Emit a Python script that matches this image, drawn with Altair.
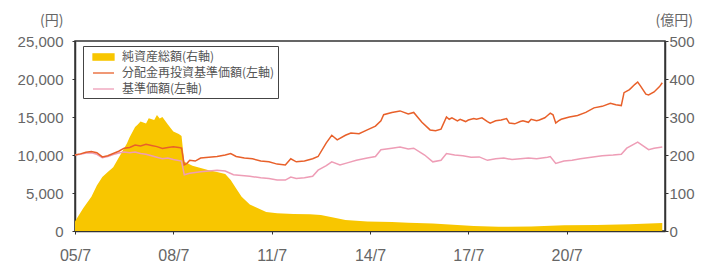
import altair as alt
import pandas as pd

S_NAV = "純資産総額(右軸)"
S_REINV = "分配金再投資基準価額(左軸)"
S_NAVPU = "基準価額(左軸)"

nav_dates = ["2005-07", "2005-08", "2005-10", "2006-01", "2006-03", "2006-05", "2006-07", "2006-09",
             "2006-12", "2007-02", "2007-03", "2007-05", "2007-06", "2007-07", "2007-09", "2007-10",
             "2007-12", "2008-01", "2008-02", "2008-03", "2008-05", "2008-07", "2008-09", "2008-10",
             "2008-11", "2008-12", "2009-02", "2009-05", "2009-08", "2009-11", "2010-02", "2010-04",
             "2010-06", "2010-08", "2010-11", "2011-01", "2011-05", "2011-09", "2012-03", "2012-09",
             "2013-01", "2013-06", "2013-10", "2014-06", "2015-03", "2015-09", "2016-06", "2017-03",
             "2017-09", "2018-06", "2019-06", "2020-06", "2021-06", "2022-06", "2023-06"]
nav_values = [25, 37, 60, 90, 120, 142, 155, 168,
              205, 230, 247, 274, 280, 288, 283, 297,
              292, 305, 296, 300, 280, 262, 255, 250,
              182, 179, 172, 166, 160, 155, 150, 134,
              112, 90, 70, 63, 50, 47, 45, 44,
              42, 35, 29, 25, 24, 22, 20, 16,
              13, 11, 12, 15, 16, 18, 21]

reinv_dates = ["2005-07", "2005-09", "2005-11", "2006-01", "2006-03", "2006-05", "2006-07", "2006-09",
               "2006-11", "2007-01", "2007-03", "2007-05", "2007-07", "2007-09", "2007-11", "2008-01",
               "2008-03", "2008-05", "2008-07", "2008-09", "2008-10", "2008-11", "2008-12", "2009-01",
               "2009-03", "2009-05", "2009-08", "2009-11", "2010-02", "2010-04", "2010-06", "2010-09",
               "2010-12", "2011-03", "2011-06", "2011-09", "2011-12", "2012-02", "2012-04", "2012-07",
               "2012-10", "2012-12", "2013-03", "2013-05", "2013-07", "2013-10", "2013-12", "2014-03",
               "2014-06", "2014-09", "2014-11", "2014-12", "2015-03", "2015-06", "2015-09", "2015-11",
               "2016-02", "2016-05", "2016-07", "2016-09", "2016-11", "2016-12", "2017-01", "2017-03",
               "2017-04", "2017-06", "2017-07", "2017-09", "2017-10", "2017-12", "2018-02", "2018-03",
               "2018-05", "2018-07", "2018-09", "2018-10", "2018-12", "2019-02", "2019-03", "2019-05",
               "2019-06", "2019-08", "2019-09", "2019-11", "2019-12", "2020-01", "2020-02", "2020-03",
               "2020-04", "2020-05", "2020-08", "2020-11", "2021-02", "2021-05", "2021-08", "2021-11",
               "2022-01", "2022-03", "2022-04", "2022-06", "2022-08", "2022-09", "2022-10", "2022-12",
               "2023-01", "2023-03", "2023-05", "2023-06"]
reinv_values = [10000, 10150, 10350, 10450, 10300, 9750, 9900, 10200,
                10500, 10900, 11000, 11300, 11200, 11400, 11250, 11100,
                10850, 11000, 11100, 11000, 10900, 8700, 8900, 9300,
                9200, 9600, 9700, 9800, 10000, 10200, 9800, 9600,
                9500, 9200, 9100, 8800, 8700, 9500, 9100, 9200,
                9500, 9800, 11600, 12600, 12000, 12600, 12900, 12800,
                13300, 13800, 14500, 15300, 15600, 15800, 15400, 15600,
                14300, 13300, 13200, 13400, 15000, 14700, 14900, 14500,
                14700, 14400, 14600, 14800, 14700, 14900, 14400, 14200,
                14500, 14600, 14800, 14200, 14100, 14400, 14500, 14300,
                14700, 14500, 14600, 14900, 15200, 15500, 15300, 14200,
                14500, 14700, 15000, 15200, 15600, 16200, 16400, 16800,
                16600, 16500, 18200, 18600, 19300, 19600, 19100, 18000,
                17900, 18300, 19000, 19500]

navpu_dates = ["2005-07", "2005-09", "2005-11", "2006-01", "2006-03", "2006-05", "2006-07", "2006-09",
               "2006-11", "2007-01", "2007-03", "2007-05", "2007-07", "2007-09", "2007-11", "2008-01",
               "2008-03", "2008-05", "2008-07", "2008-10", "2008-11", "2008-12", "2009-01", "2009-05",
               "2009-08", "2009-11", "2010-02", "2010-05", "2010-08", "2010-11", "2011-03", "2011-06",
               "2011-09", "2011-12", "2012-02", "2012-04", "2012-07", "2012-10", "2012-12", "2013-03",
               "2013-05", "2013-08", "2013-11", "2014-02", "2014-06", "2014-09", "2014-11", "2015-03",
               "2015-06", "2015-09", "2015-11", "2016-03", "2016-06", "2016-09", "2016-11", "2017-02",
               "2017-05", "2017-08", "2017-11", "2018-02", "2018-05", "2018-08", "2018-11", "2019-02",
               "2019-05", "2019-08", "2019-12", "2020-01", "2020-03", "2020-06", "2020-09", "2020-12",
               "2021-04", "2021-08", "2021-12", "2022-03", "2022-05", "2022-08", "2022-09", "2022-11",
               "2023-01", "2023-03", "2023-06"]
navpu_values = [10000, 10100, 10250, 10300, 10100, 9650, 9800, 10050,
                10250, 10400, 10300, 10400, 10200, 10100, 9900, 9700,
                9500, 9600, 9400, 9200, 7400, 7500, 7600, 7800,
                7900, 8000, 7900, 7400, 7300, 7200, 7000, 6900,
                6700, 6700, 7100, 6900, 7000, 7200, 8000, 8600,
                9100, 8700, 9000, 9300, 9600, 9800, 10700, 10900,
                11050, 10800, 10900, 10000, 9100, 9300, 10200, 10000,
                9900, 9700, 9750, 9300, 9500, 9600, 9400, 9500,
                9600, 9500, 9700, 9800, 8900, 9200, 9300, 9500,
                9700, 9900, 10000, 10100, 10900, 11500, 11700, 11200,
                10700, 10900, 11050]

tick_years = [2005.5, 2008.5, 2011.5, 2014.5, 2017.5, 2020.5]
left_ticks = [0, 5000, 10000, 15000, 20000, 25000]
right_ticks = [0, 100, 200, 300, 400, 500]

series_order = [S_NAV, S_REINV, S_NAVPU]
series_colors = ["#F8C600", "#E8602A", "#EE9DB6"]


def to_t(s):
    y, m = s.split("-")
    return int(y) + (int(m) - 1) / 12.0


df_nav = pd.DataFrame({"t": [to_t(d) for d in nav_dates], "v": nav_values, "s": S_NAV})
df_lines = pd.concat([
    pd.DataFrame({"t": [to_t(d) for d in navpu_dates], "v": navpu_values, "s": S_NAVPU}),
    pd.DataFrame({"t": [to_t(d) for d in reinv_dates], "v": reinv_values, "s": S_REINV}),
], ignore_index=True)

NUM_FONT = "Liberation Sans"
CJK_FONT = "Noto Sans CJK JP"
LABEL_COLOR = "#666666"
AXIS_COLOR = "#333333"

color_scale = alt.Scale(domain=series_order, range=series_colors)

legend = alt.Legend(
    title=None, orient="none", legendX=8, legendY=5, direction="vertical",
    symbolType=alt.ExprRef(
        expr="datum.value === '" + S_NAV + "' ? 'M-1.5,-0.45H1.5V0.45H-1.5Z' : 'M-1.5,0H1.5'"),
    symbolSize=196,
    symbolStrokeWidth=1.3,
    symbolStrokeColor=alt.ExprRef(expr="scale('color', datum.value)"),
    symbolFillColor=alt.ExprRef(expr="scale('color', datum.value)"),
    symbolOffset=9.5,
    padding=3, rowPadding=2, labelFontSize=12, labelColor="#555555", labelFont=CJK_FONT,
    labelLimit=300,
    strokeColor="#444444", fillColor="white", labelOffset=10.5,
)

x_enc = alt.X(
    "t:Q",
    scale=alt.Scale(domain=[2005.5, 2023.5], nice=False, zero=False),
    axis=alt.Axis(
        values=tick_years, title=None, grid=False, labelFlush=False,
        labelExpr="substring(toString(floor(datum.value)), 2, 4) + '/7'",
        labelFont=NUM_FONT, labelFontSize=16, labelColor=LABEL_COLOR, labelPadding=13,
        tickSize=3, tickColor=AXIS_COLOR, domainColor=AXIS_COLOR, domainWidth=1.5,
    ),
)

area = alt.Chart(df_nav).mark_area(interpolate="linear").encode(
    x=x_enc,
    y=alt.Y(
        "v:Q",
        scale=alt.Scale(domain=[0, 500], nice=False),
        axis=alt.Axis(
            orient="right", values=right_ticks, grid=False, format="d",
            title="(億円)", titleAngle=0, titleAlign="left", titleBaseline="middle",
            titleX=-10, titleY=-21, titleFont=CJK_FONT, titleFontSize=14,
            titleFontWeight="normal", titleColor=LABEL_COLOR,
            labelFont=NUM_FONT, labelFontSize=15, labelColor=LABEL_COLOR, labelPadding=1,
            tickSize=3, tickColor=AXIS_COLOR, domainColor=AXIS_COLOR, domainWidth=1.5,
        ),
    ),
    color=alt.Color("s:N", scale=color_scale, legend=legend),
)

lines = alt.Chart(df_lines).mark_line(strokeWidth=1.5).encode(
    x=x_enc,
    y=alt.Y(
        "v:Q",
        scale=alt.Scale(domain=[0, 25000], nice=False),
        axis=alt.Axis(
            orient="left", values=left_ticks, grid=False, format=",d",
            title="(円)", titleAngle=0, titleAlign="right", titleBaseline="middle",
            titleX=-12, titleY=-21, titleFont=CJK_FONT, titleFontSize=14,
            titleFontWeight="normal", titleColor=LABEL_COLOR,
            labelFont=NUM_FONT, labelFontSize=15, labelColor=LABEL_COLOR, labelPadding=9,
            tickSize=3, tickColor=AXIS_COLOR, domainColor=AXIS_COLOR, domainWidth=1.5,
        ),
    ),
    color=alt.Color("s:N", scale=color_scale, legend=legend),
)

chart = alt.layer(area, lines).resolve_scale(y="independent").properties(
    width=590, height=190,
    padding={"left": 67, "top": 33, "right": 30, "bottom": 35},
    autosize=alt.AutoSizeParams(type="none"),
    background="white",
).configure_view(stroke=AXIS_COLOR, strokeWidth=1.5)

chart.save("out.html", embed_options={"renderer": "svg", "actions": False})
